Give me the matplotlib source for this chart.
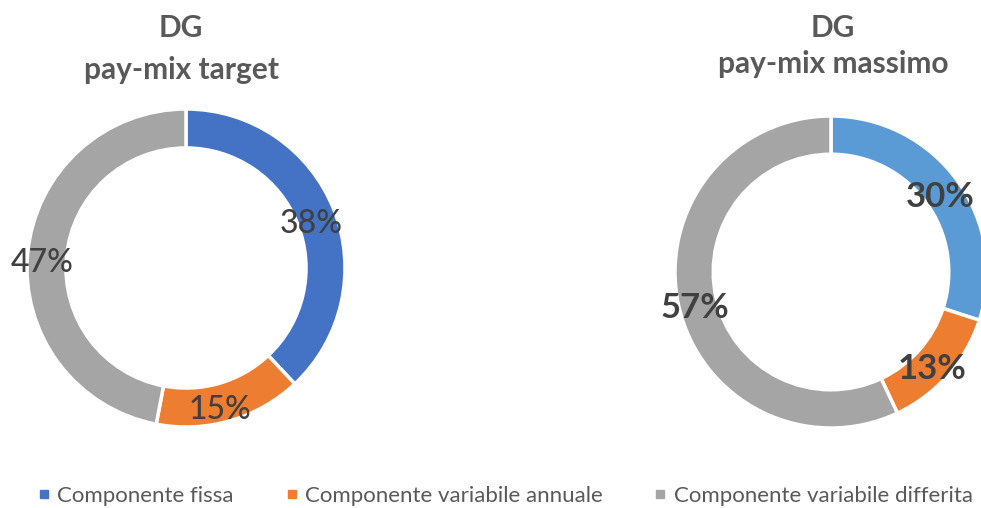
import matplotlib.pyplot as plt
from matplotlib.lines import Line2D
from matplotlib.transforms import ScaledTranslation

plt.rcParams['font.family'] = ['Lato', 'DejaVu Sans']

categories = ['Componente fissa', 'Componente variabile annuale',
              'Componente variabile differita']
target_vals = [38, 15, 47]
massimo_vals = [30, 13, 57]
target_title = ['DG', 'pay-mix target']
massimo_title = ['DG', 'pay-mix massimo']

TITLE_C = '#595959'
LABEL_C = '#404040'
left_colors = ['#4472C4', '#ED7D31', '#A5A5A5']
right_colors = ['#5B9BD5', '#ED7D31', '#A5A5A5']

W, H = 981, 508
fig = plt.figure(figsize=(W / 100, H / 100), dpi=100)


def donut(cx, cy, r, vals, colors, fsize, weight, shift):
    # cx, cy in pixels from top-left
    ax = fig.add_axes([(cx - r) / W, (H - cy - r) / H, 2 * r / W, 2 * r / H])
    _, _, autotexts = ax.pie(
        vals, colors=colors, startangle=90, counterclock=False, radius=1,
        autopct='%d%%', pctdistance=0.88,
        wedgeprops=dict(width=0.245, edgecolor='white', linewidth=2.5),
        textprops=dict(color=LABEL_C, fontsize=fsize, fontweight=weight))
    # nudge labels the way the original renderer places them
    off = ScaledTranslation(shift[0] / 100, shift[1] / 100, fig.dpi_scale_trans)
    for t in autotexts:
        t.set_transform(ax.transData + off)
    ax.set_xlim(-1, 1)
    ax.set_ylim(-1, 1)
    ax.set_aspect('equal')
    ax.axis('off')
    return ax


donut(186, 268, 159, target_vals, left_colors, 23, 'medium', (-5, -8))
donut(831, 272, 156, massimo_vals, right_colors, 25, 'bold', (-2, -6))

for x, title, y2 in [(181, target_title, 79), (833, massimo_title, 73)]:
    fig.text(x / W, 1 - 37 / H, title[0], ha='center', va='baseline',
             fontsize=21.5, fontweight='bold', color=TITLE_C)
    fig.text(x / W, 1 - y2 / H, title[1], ha='center', va='baseline',
             fontsize=21.5, fontweight='bold', color=TITLE_C)

handles = [Line2D([], [], marker='s', ls='none', color=c, markersize=6)
           for c in left_colors]
fig.legend(handles, categories, ncol=3, loc='center', frameon=False,
           bbox_to_anchor=(505 / W, 1 - 496 / H), fontsize=16,
           labelcolor=TITLE_C, handlelength=0.6, handletextpad=0.3,
           columnspacing=2.3, borderpad=0, borderaxespad=0)

fig.savefig('out.png', dpi=100)
